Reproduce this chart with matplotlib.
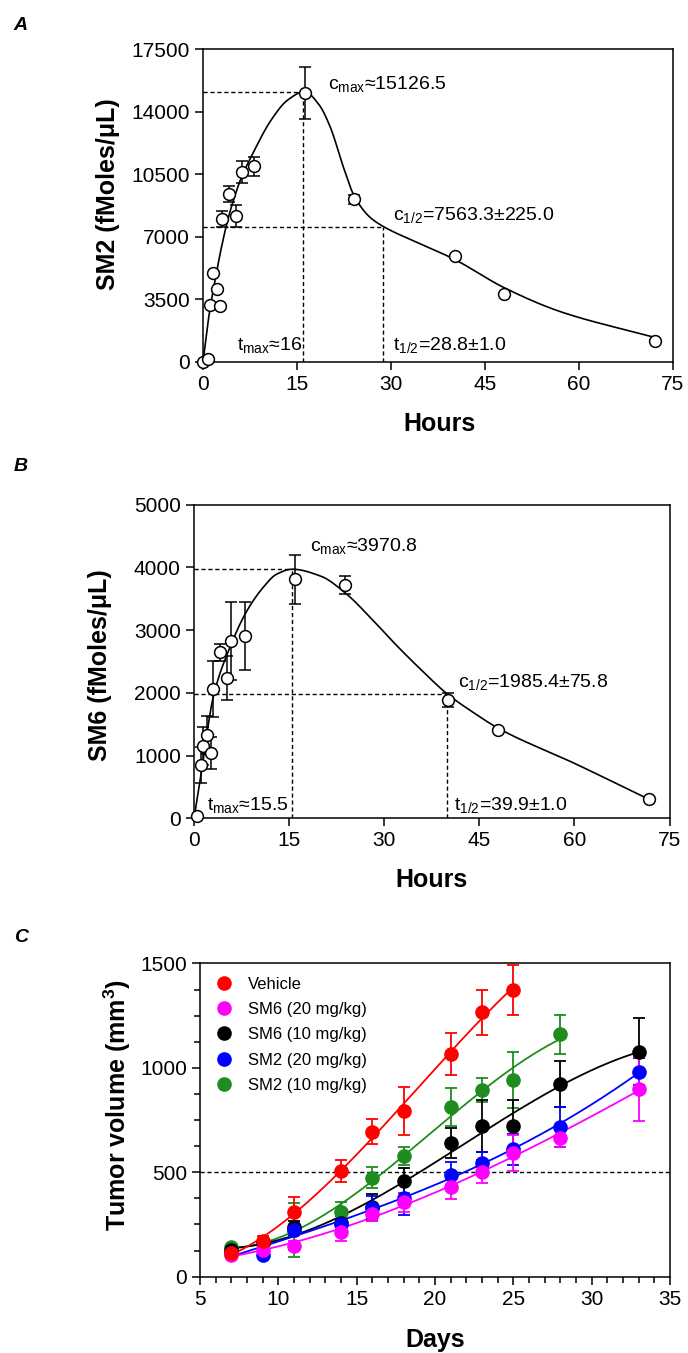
import numpy as np
import matplotlib
matplotlib.use("Agg")
import matplotlib.pyplot as plt
from matplotlib.lines import Line2D
from matplotlib.ticker import MultipleLocator

plt.rcParams['font.family'] = ['Liberation Sans', 'DejaVu Sans']
plt.rcParams['mathtext.fontset'] = 'custom'
plt.rcParams['mathtext.rm'] = 'Liberation Sans'
plt.rcParams['mathtext.it'] = 'Liberation Sans:italic'
plt.rcParams['mathtext.bf'] = 'Liberation Sans:bold'
plt.rcParams['axes.linewidth'] = 1.1

# --- A: SM2 plasma concentration
hours_a = [0, 0.8, 1.1, 1.6, 2.3, 2.7, 3.1, 4.2, 5.3, 6.2, 8.2, 16.2, 24.1, 40.2, 48.1, 72.1]
sm2_conc = [0, 150, 3140, 4950, 4060, 3100, 7980, 9370, 8150, 10620, 10950, 15050, 9090, 5890, 3760, 1140]
sm2_err = [0, 0, 0, 0, 0, 0, 430, 450, 600, 600, 530, 1450, 250, 0, 0, 0]
# fitted curve
fit_a_t = [0, 1, 2, 3, 4, 5, 6, 8, 11, 13.5, 16.2, 18.5, 20.3, 22.4, 24.1, 26.6, 28.8, 34, 40, 48, 57, 72]
fit_a_v = [0, 2700, 4700, 6500, 8000, 9200, 10200, 11700, 13600, 14650, 15126, 14400, 13150, 10900,
           9300, 8100, 7563, 6700, 5750, 4150, 2800, 1360]

# --- B: SM6 plasma concentration
hours_b = [0.5, 1.05, 1.4, 2.1, 2.6, 3.05, 4.1, 5.15, 5.9, 8.1, 15.9, 23.8, 40, 48, 71.8]
sm6_conc = [30, 850, 1150, 1330, 1040, 2060, 2645, 2230, 2825, 2910, 3810, 3720, 1885, 1410, 300]
sm6_err = [0, 280, 300, 300, 260, 440, 130, 350, 620, 545, 390, 140, 110, 0, 0]
fit_b_t = [0, 1.05, 3.05, 5.7, 8.3, 10.9, 13, 15.5, 20, 24, 28, 32, 36, 39.9, 44, 48, 60, 72]
fit_b_v = [0, 660, 1940, 2735, 3300, 3680, 3890, 3971, 3860, 3580, 3180, 2750, 2350, 1985, 1690,
           1434, 876, 290]

# --- C: tumour volume
days = [7, 9, 11, 14, 16, 18, 21, 23, 25, 28, 33]
vehicle = [112, 172, 311, 506, 695, 795, 1067, 1266, 1375]
vehicle_err = [15, 25, 72, 53, 60, 115, 100, 107, 120]
sm6_20 = [105, 128, 149, 216, 300, 356, 428, 503, 591, 666, 898]
sm6_20_err = [10, 15, 20, 45, 35, 45, 57, 56, 86, 43, 153]
sm6_10 = [128, 160, 237, 256, 335, 460, 639, 723, 723, 923, 1078]
sm6_10_err = [10, 20, 30, 40, 60, 59, 72, 125, 123, 112, 160]
sm2_20 = [115, 104, 224, 250, 328, 375, 487, 546, 610, 718, 982]
sm2_20_err = [10, 15, 25, 40, 59, 80, 61, 50, 75, 96, 64]
sm2_10 = [141, 160, 225, 311, 474, 580, 811, 894, 942, 1161]
sm2_10_err = [12, 20, 130, 45, 50, 43, 91, 59, 136, 93]


def pchip(x, y, xs):
    # monotone cubic through the curve knots
    x = np.asarray(x, float); y = np.asarray(y, float)
    h = np.diff(x); d = np.diff(y) / h
    m = np.zeros_like(y)
    for k in range(1, len(x) - 1):
        if d[k - 1] * d[k] > 0:
            w1 = 2 * h[k] + h[k - 1]; w2 = h[k] + 2 * h[k - 1]
            m[k] = (w1 + w2) / (w1 / d[k - 1] + w2 / d[k])
    m[0] = d[0]; m[-1] = d[-1]
    i = np.clip(np.searchsorted(x, xs) - 1, 0, len(h) - 1)
    t = (xs - x[i]) / h[i]
    return ((2*t**3 - 3*t**2 + 1) * y[i] + (t**3 - 2*t**2 + t) * h[i] * m[i]
            + (-2*t**3 + 3*t**2) * y[i + 1] + (t**3 - t**2) * h[i] * m[i + 1])


def style(ax, size=15):
    ax.tick_params(direction='out', length=6, width=1.1, labelsize=size, top=False, right=False)


def pk_panel(ax, t, v, err, ft, fv, tmax, cmax, thalf, chalf, texts):
    xs = np.linspace(ft[0], ft[-1], 400)
    ax.plot(xs, pchip(ft, fv, xs), color='black', lw=1.2, zorder=2)
    t = np.array(t); v = np.array(v); err = np.array(err)
    k = err > 0
    ax.errorbar(t[k], v[k], yerr=err[k], fmt='none', ecolor='black', elinewidth=1.1,
                capsize=4.5, capthick=1.1, zorder=3)
    ax.plot(t, v, 'o', ms=8.5, mfc='white', mec='black', mew=1.1, zorder=4, clip_on=False)
    dash = dict(color='black', lw=1, ls=(0, (3, 2)), zorder=1)
    ax.plot([0, tmax], [cmax, cmax], **dash)
    ax.plot([tmax, tmax], [0, cmax], **dash)
    ax.plot([0, thalf], [chalf, chalf], **dash)
    ax.plot([thalf, thalf], [0, chalf], **dash)
    for x, y, s in texts:
        ax.text(x, y, s, fontsize=14, va='center', ha='left')
    ax.set_xlim(0, 75)
    ax.xaxis.set_major_locator(MultipleLocator(15))
    style(ax)


fig = plt.figure(figsize=(6.88, 13.53), dpi=100)

axA = fig.add_axes([0.2951, 0.7328, 0.6829, 0.2308])
pk_panel(axA, hours_a, sm2_conc, sm2_err, fit_a_t, fit_a_v, 16, 15126.5, 28.8, 7563.3,
         [(19.9, 15580, r'c$_{\mathrm{max}}$≈15126.5'), (30.3, 8190, r'c$_{\mathrm{1/2}}$=7563.3±225.0'),
          (5.4, 900, r't$_{\mathrm{max}}$≈16'), (30.3, 900, r't$_{\mathrm{1/2}}$=28.8±1.0')])
axA.set_ylim(0, 17500)
axA.yaxis.set_major_locator(MultipleLocator(3500))
axA.set_xlabel('Hours', fontsize=18, fontweight='bold')
axA.set_ylabel('SM2 (fMoles/μL)', fontsize=18, fontweight='bold')
axA.xaxis.set_label_coords(0.504, -0.20)
axA.xaxis.label.set_va('center')
axA.yaxis.set_label_coords(-0.202, 0.537)
axA.yaxis.label.set_va('center')

axB = fig.add_axes([0.2820, 0.3952, 0.6912, 0.2318])
pk_panel(axB, hours_b, sm6_conc, sm6_err, fit_b_t, fit_b_v, 15.5, 3970.8, 39.9, 1985.4,
         [(18.3, 4340, r'c$_{\mathrm{max}}$≈3970.8'), (41.7, 2180, r'c$_{\mathrm{1/2}}$=1985.4±75.8'),
          (2.0, 212, r't$_{\mathrm{max}}$≈15.5'), (41.0, 212, r't$_{\mathrm{1/2}}$=39.9±1.0')])
axB.set_ylim(0, 5000)
axB.yaxis.set_major_locator(MultipleLocator(1000))
axB.set_xlabel('Hours', fontsize=18, fontweight='bold')
axB.set_ylabel('SM6 (fMoles/μL)', fontsize=18, fontweight='bold')
axB.xaxis.set_label_coords(0.5, -0.198)
axB.xaxis.label.set_va('center')
axB.yaxis.set_label_coords(-0.198, 0.489)
axB.yaxis.label.set_va('center')

axC = fig.add_axes([0.2907, 0.0564, 0.6831, 0.2315])
series = [
    ('SM2 (10 mg/kg)', sm2_10, sm2_10_err, '#1E8C1E'),
    ('SM6 (10 mg/kg)', sm6_10, sm6_10_err, 'black'),
    ('SM2 (20 mg/kg)', sm2_20, sm2_20_err, '#0000FF'),
    ('SM6 (20 mg/kg)', sm6_20, sm6_20_err, '#FF00FF'),
    ('Vehicle', vehicle, vehicle_err, '#FF0000'),
]
handles = {}
for z, (name, vals, err, col) in enumerate(series):
    d = np.array(days[:len(vals)], float)
    vals = np.array(vals, float)
    coef = np.polyfit(d, vals, 3)
    xs = np.linspace(d[0], d[-1], 200)
    axC.plot(xs, np.polyval(coef, xs), color=col, lw=1.3, zorder=2 + z * 0.1)
    axC.errorbar(d, vals, yerr=err, fmt='none', ecolor=col, elinewidth=1.3,
                 capsize=4.5, capthick=1.3, zorder=3 + z * 0.1)
    axC.plot(d, vals, 'o', ms=9.5, color=col, zorder=4 + z * 0.1)
    handles[name] = Line2D([], [], ls='none', marker='o', ms=9.5, color=col)
axC.axhline(500, color='black', lw=1, ls=(0, (3, 2)), zorder=1)
order = ['Vehicle', 'SM6 (20 mg/kg)', 'SM6 (10 mg/kg)', 'SM2 (20 mg/kg)', 'SM2 (10 mg/kg)']
axC.legend([handles[n] for n in order], order, loc='upper left', bbox_to_anchor=(-0.005, 0.99),
           frameon=False, fontsize=12, handletextpad=0.4, labelspacing=0.62, borderaxespad=0.2)
axC.set_xlim(5, 35)
axC.set_ylim(0, 1500)
axC.xaxis.set_major_locator(MultipleLocator(5))
axC.xaxis.set_minor_locator(MultipleLocator(1))
axC.yaxis.set_major_locator(MultipleLocator(500))
axC.yaxis.set_minor_locator(MultipleLocator(125))
style(axC)
axC.tick_params(which='minor', direction='out', length=4, width=1.1, top=False, right=False)
axC.set_xlabel('Days', fontsize=18, fontweight='bold')
axC.set_ylabel(r'Tumor volume (mm$^{\mathbf{3}}$)', fontsize=18, fontweight='bold')
axC.xaxis.set_label_coords(0.5, -0.202)
axC.xaxis.label.set_va('center')
axC.yaxis.set_label_coords(-0.177, 0.548)
axC.yaxis.label.set_va('center')

for lab, y in [('A', 1 - 25 / 1353), ('B', 1 - 466 / 1353), ('C', 1 - 937 / 1353)]:
    fig.text(0.03, y, lab, fontsize=14, fontweight='bold', fontstyle='italic', va='center', ha='center')

fig.savefig('out.png', dpi=100, facecolor='white')
